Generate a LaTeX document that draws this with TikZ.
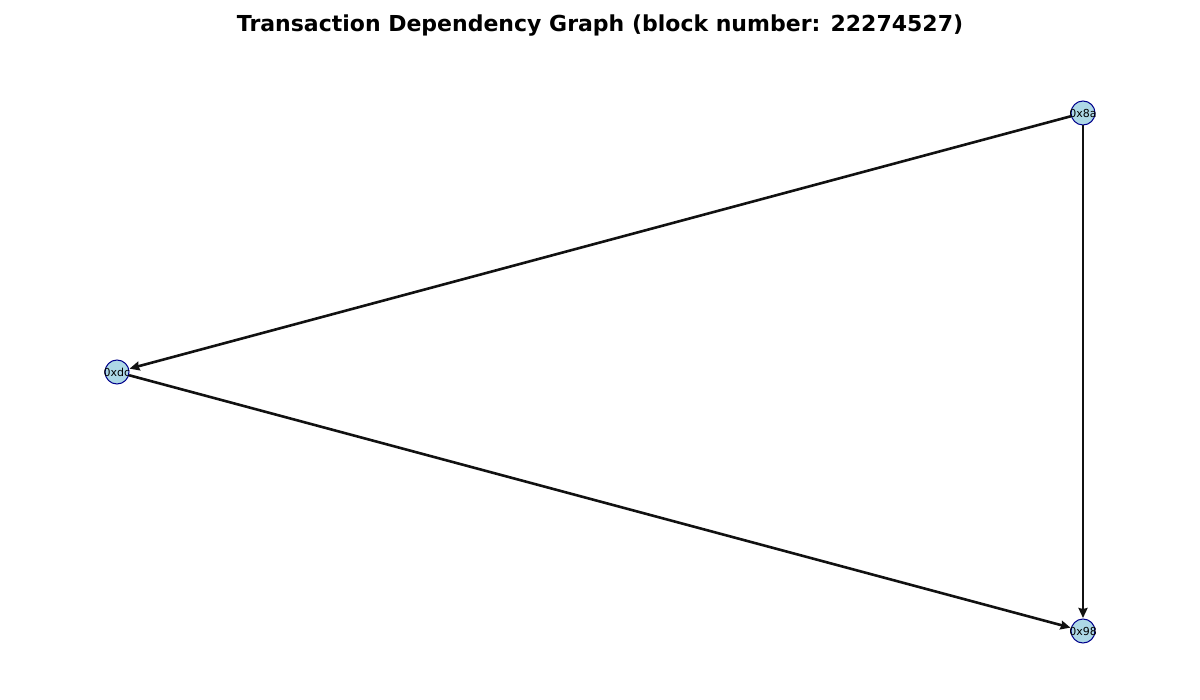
\documentclass[tikz,border=0pt]{standalone}
\usepackage{fontspec}
\setmainfont{DejaVu Sans}
\usetikzlibrary{arrows.meta}
\definecolor{nodefill}{HTML}{ADD8E6}
\definecolor{nodeedge}{HTML}{00008B}
\definecolor{edgecol}{HTML}{111111}
\tikzset{
  txnode/.style={circle, draw=nodeedge, fill=nodefill, line width=1pt, minimum size=24pt, inner sep=0pt},
  txlabel/.style={font=\fontsize{11}{12}\selectfont, text=black},
  dep/.style={draw=edgecol, line width=2.6pt, -{Stealth[length=10pt,width=9pt,inset=1pt]}, shorten >=0.5pt}
}
\begin{document}
\begin{tikzpicture}[x=1pt,y=-1pt]
\useasboundingbox (0,0) rectangle (1200,700);
\node[font=\bfseries\fontsize{22}{26}\selectfont] (title) at (600,26) {Transaction Dependency Graph (block number: 22274527)};
\node[txnode] (a) at (1083,113) {};
\node[txnode] (d) at (117,372) {};
\node[txnode] (b) at (1083,631) {};
\draw[dep] (a) -- (d);
\draw[dep] (d) -- (b);
\draw[dep] (a) -- (b);
\node[txlabel] (la) at (a.center) {0x8a};
\node[txlabel] (ld) at (d.center) {0xdc};
\node[txlabel] (lb) at (b.center) {0x98};
\end{tikzpicture}
\end{document}
